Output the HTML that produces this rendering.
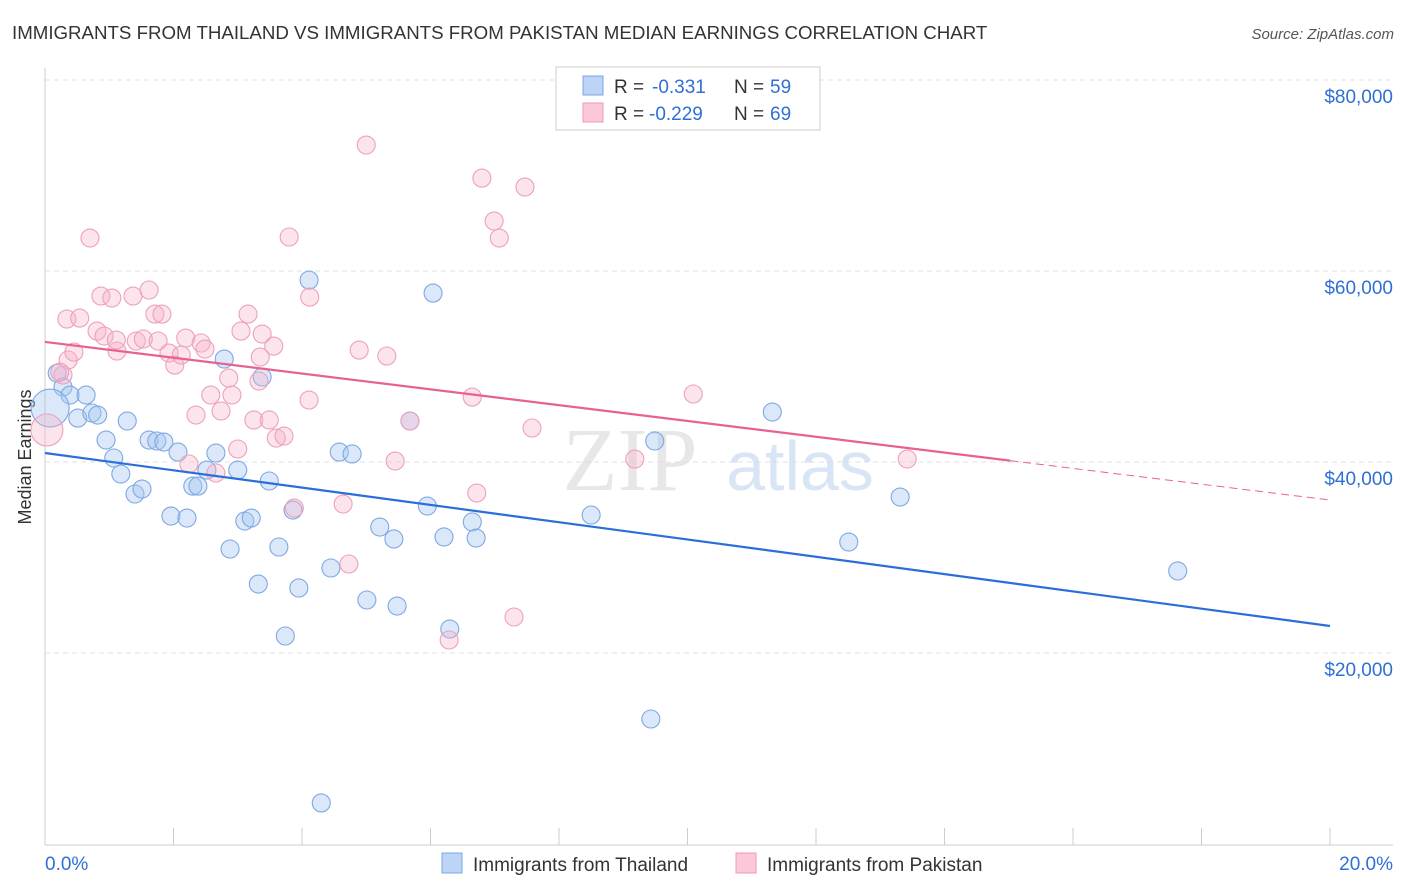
<!DOCTYPE html>
<html><head><meta charset="utf-8"><style>
body{margin:0;background:#fff;font-family:"Liberation Sans",sans-serif;}
svg{display:block}
</style></head><body>
<svg id="c" width="1406" height="892">
<text x="12" y="39" font-size="18.7" fill="#333">IMMIGRANTS FROM THAILAND VS IMMIGRANTS FROM PAKISTAN MEDIAN EARNINGS CORRELATION CHART</text>
<text x="1394" y="39" font-size="15" fill="#555" font-style="italic" text-anchor="end">Source: ZipAtlas.com</text>
<text x="37" y="457" font-size="18" fill="#333" text-anchor="middle" transform="rotate(-90 37 457)" dy="-6">Median Earnings</text>
<g id="grid"></g>
<text x="630" y="490" font-size="90" fill="#ddd" font-family="Liberation Serif" opacity="0.7" text-anchor="middle">ZIP</text>
<text x="800" y="490" font-size="70" fill="#c9daf2" opacity="0.7" text-anchor="middle">atlas</text>
<g id="pts"></g>
<g id="lines"></g>
<g>
<rect x="556" y="67" width="264" height="63" fill="#fff" stroke="#ccc"/>
<rect x="583" y="76" width="20" height="19" fill="#bcd4f5" stroke="#7aa6e6"/>
<rect x="583" y="103" width="20" height="19" fill="#fbc8d8" stroke="#ee9ab6"/>
<text y="93" font-size="19" fill="#333"><tspan x="614">R =</tspan><tspan x="652" fill="#2f6fd6">-0.331</tspan><tspan x="734">N =</tspan><tspan x="770" fill="#2f6fd6">59</tspan></text>
<text y="120" font-size="19" fill="#333"><tspan x="614">R =</tspan><tspan x="649" fill="#2f6fd6">-0.229</tspan><tspan x="734">N =</tspan><tspan x="770" fill="#2f6fd6">69</tspan></text>
</g>
<rect x="442" y="853" width="20" height="20" fill="#bcd4f5" stroke="#7aa6e6"/>
<text x="473" y="871" font-size="19" fill="#333">Immigrants from Thailand</text>
<rect x="736" y="853" width="20" height="20" fill="#fbc8d8" stroke="#ee9ab6"/>
<text x="767" y="871" font-size="19" fill="#333">Immigrants from Pakistan</text>
</svg>
<script>
const yTicks=[20000,40000,60000,80000];
const yTickLabels=["$20,000","$40,000","$60,000","$80,000"];
const xTicks=[0,2,4,6,8,10,12,14,16,18,20];
const xEdgeLabels=["0.0%","20.0%"];
const thaiX=[0.19,0.28,0.39,0.64,0.51,0.73,0.82,1.28,0.95,1.07,1.18,1.40,1.51,1.96,2.21,1.62,1.74,1.85,2.07,2.30,2.38,2.66,2.52,3.00,2.79,2.88,3.11,3.21,3.32,3.49,3.38,3.64,3.74,3.95,3.86,4.11,4.45,4.58,4.78,5.01,5.21,5.43,5.48,5.68,5.95,6.04,6.21,6.30,6.65,6.71,8.50,9.43,9.49,11.32,12.51,13.31,17.63,4.30,0.08];
const thaiY=[49300,47850,47010,47010,44600,45130,44920,44290,42300,40420,38740,36650,37170,34340,34130,42300,42200,42090,41040,37480,37480,40940,39160,39160,50780,30890,33820,34130,27220,38010,48900,31100,21780,26810,34970,59050,28900,41040,40840,25550,33190,31940,24920,44290,35390,57690,32150,22510,33720,32040,34450,13090,42200,45230,31620,36330,28590,4300,45650];
const thaiR=[9,9,9,9,9,9,9,9,9,9,9,9,9,9,9,9,9,9,9,9,9,9,9,9,9,9,9,9,9,9,9,9,9,9,9,9,9,9,9,9,9,9,9,9,9,9,9,9,9,9,9,9,9,9,9,9,9,9,19];
const pakX=[0.34,0.54,0.70,0.87,1.04,0.81,0.92,1.37,1.62,1.71,1.82,1.12,1.11,1.42,0.36,0.28,0.45,1.53,1.76,1.93,2.02,2.12,2.19,2.43,2.49,2.35,2.58,2.74,2.86,2.91,3.00,3.05,3.16,3.38,3.33,3.35,3.25,3.49,3.56,3.60,3.72,3.80,4.12,4.11,3.88,4.64,4.73,4.89,5.00,5.32,5.45,5.68,6.29,6.65,6.80,6.99,7.07,7.47,7.58,6.72,7.30,9.18,10.09,13.42,2.24,2.66,0.03,0.23];
const pakY=[54970,55070,63450,57380,57170,53710,53190,57380,58010,55490,55490,51620,52770,52670,50680,49110,51510,52880,52670,51410,50150,51200,52980,52460,51830,44920,47010,45340,48790,47010,41360,53710,55490,53400,48480,50990,44400,44400,52140,42510,42720,63560,57270,46490,35180,35600,29320,51720,73190,51100,40100,44290,21360,46800,69730,65230,63450,68790,43560,36750,23770,40310,47120,40310,39790,38850,43350,49420];
const pakR=pakX.map((v,i)=>i===66?16:9);
const thaiTrend=[40940,22830];
const pakTrend=[52570,36020];
const pakSolidEnd=15.02;
const NS='http://www.w3.org/2000/svg';
const X0=45,X1=1330,Ytop=80,Ybot=653;
function sx(p){return X0+(p/20)*(X1-X0);}
function sy(v){return Ybot-(v-20000)/60000*(Ybot-Ytop);}
function mk(t,a,parent){const e=document.createElementNS(NS,t);for(const k in a)e.setAttribute(k,a[k]);parent.appendChild(e);return e;}
const grid=document.getElementById('grid');
yTicks.forEach((v,i)=>{
 const l=mk('line',{x1:X0,x2:1393,y1:sy(v),y2:sy(v),stroke:'#e2e2e2','stroke-dasharray':'5,4'},grid);
 
 
 const t=mk('text',{x:1393,y:sy(v)+23,'font-size':19,fill:'#2f6fd6','text-anchor':'end'},grid);
 t.textContent=yTickLabels[i];
 
 
});
const ax=mk('line',{x1:X0,x2:X0,y1:68,y2:845,stroke:'#ccc'},grid);


const bx=mk('line',{x1:X0,x2:1393,y1:845,y2:845,stroke:'#ccc'},grid);


xTicks.forEach(p=>{
 const l=mk('line',{x1:sx(p),x2:sx(p),y1:828,y2:845,stroke:'#ccc'},grid);
 
 
});
[[0,'start',xEdgeLabels[0]],[20,'end',xEdgeLabels[1]]].forEach(([p,a,s])=>{
 const t=mk('text',{x:p===0?45:1393,y:870,'font-size':19,fill:'#2f6fd6','text-anchor':a},grid);
 t.textContent=s;
 
 
});
const pts=document.getElementById('pts');
thaiX.forEach((p,i)=>{
 const c=mk('circle',{cx:sx(p),cy:sy(thaiY[i]),r:thaiR[i],fill:'rgba(165,198,240,0.4)',stroke:'#7ea8e4','stroke-width':1.1},pts);
 
 
});
pakX.forEach((p,i)=>{
 const c=mk('circle',{cx:sx(p),cy:sy(pakY[i]),r:pakR[i],fill:'rgba(247,178,200,0.35)',stroke:'#eea0ba','stroke-width':1.1},pts);
 
 
});
const lines=document.getElementById('lines');
const tl=mk('line',{x1:sx(0),y1:sy(thaiTrend[0]),x2:sx(20),y2:sy(thaiTrend[1]),stroke:'#2a6fd8','stroke-width':2.2},lines);


const pm=pakTrend[0]+(pakTrend[1]-pakTrend[0])*pakSolidEnd/20;
const pl=mk('line',{x1:sx(0),y1:sy(pakTrend[0]),x2:sx(pakSolidEnd),y2:sy(pm),stroke:'#e8628e','stroke-width':2.2},lines);


const pd=mk('line',{x1:sx(pakSolidEnd),y1:sy(pm),x2:sx(20),y2:sy(pakTrend[1]),stroke:'#e8628e','stroke-width':1,'stroke-dasharray':'8,5'},lines);


</script>
</body></html>
